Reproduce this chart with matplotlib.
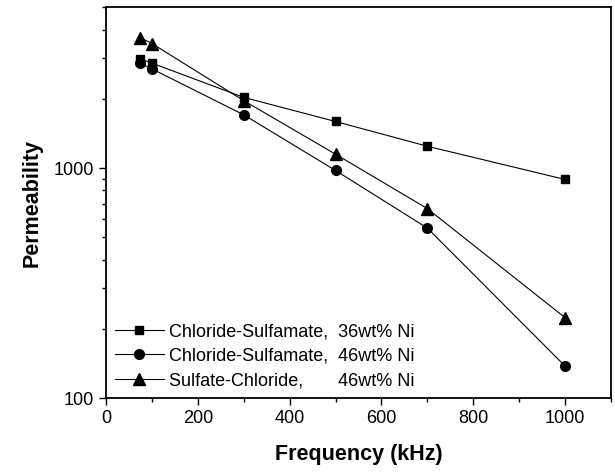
import matplotlib.pyplot as plt
from matplotlib.ticker import LogLocator, NullFormatter, MultipleLocator, FixedFormatter

plt.rcParams['font.family'] = ['Liberation Sans', 'DejaVu Sans']

# data
freq = [75, 100, 300, 500, 700, 1000]
cs36 = [2990, 2860, 2030, 1595, 1245, 893]
cs46 = [2850, 2700, 1705, 977, 549, 138]
sc46 = [3690, 3480, 1965, 1150, 667, 224]

labels = ['Chloride-Sulfamate,  36wt% Ni',
          'Chloride-Sulfamate,  46wt% Ni',
          'Sulfate-Chloride,       46wt% Ni']
yticks = [100, 1000]

fig = plt.figure(figsize=(6.15, 4.74), dpi=100)
ax = fig.add_axes([0.1724, 0.1597, 0.8211, 0.8249])

ax.plot(freq, cs36, 'k-s', lw=0.8, ms=6, label=labels[0])
ax.plot(freq, cs46, 'k-o', lw=0.8, ms=7, label=labels[1])
ax.plot(freq, sc46, 'k-^', lw=0.8, ms=8, label=labels[2])

ax.set_yscale('log')
ax.set_xlim(0, 1100)
ax.set_ylim(100, 5000)
ax.xaxis.set_major_locator(MultipleLocator(200))
ax.xaxis.set_minor_locator(MultipleLocator(100))
ax.set_yticks(yticks)
ax.set_yticklabels([str(v) for v in yticks])
ax.yaxis.set_minor_locator(LogLocator(base=10, subs=range(2, 10)))
ax.yaxis.set_minor_formatter(NullFormatter())

ax.tick_params(which='major', direction='out', length=5, width=1, labelsize=13)
ax.tick_params(which='minor', direction='out', length=3, width=1)
for s in ax.spines.values():
    s.set_linewidth(1.3)

ax.set_xlabel('Frequency (kHz)', fontsize=15.5, fontweight='bold', labelpad=12)
ax.set_ylabel('Permeability', fontsize=15.5, fontweight='bold', labelpad=8)

ax.legend(loc='lower left', frameon=False, fontsize=13, handlelength=2.7,
          handletextpad=0.3, labelspacing=0.42, borderaxespad=0.3,
          borderpad=0.2)

fig.savefig('out.png', dpi=100)
